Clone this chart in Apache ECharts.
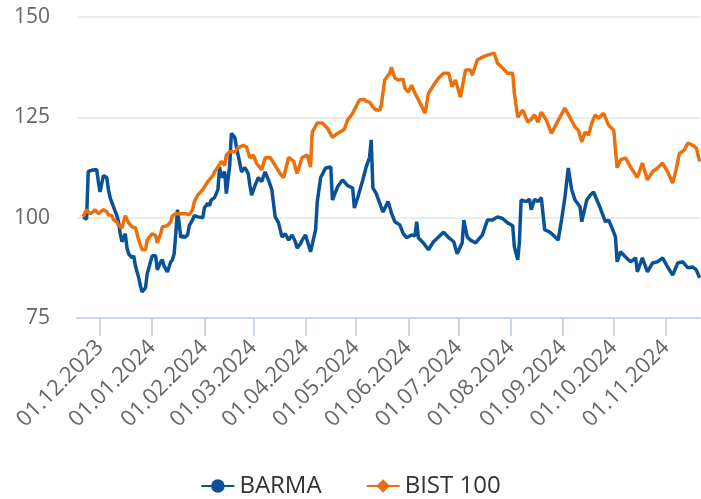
<!DOCTYPE html>
<html>
<head>
<meta charset="utf-8">
<script src="https://cdn.jsdelivr.net/npm/echarts@6/dist/echarts.min.js"></script>
<style>
  html, body { margin: 0; padding: 0; background: #fff; }
  #chart { width: 701px; height: 499px; }
</style>
</head>
<body>
<div id="chart"></div>
<script>
// month ticks on the x axis
const monthTicks = ['2023-12-01', '2024-01-01', '2024-02-01', '2024-03-01', '2024-04-01', '2024-05-01',
  '2024-06-01', '2024-07-01', '2024-08-01', '2024-09-01', '2024-10-01', '2024-11-01']
const yTicks = [75, 100, 125, 150]

// BARMA (rebased to 100)
const barmaDates = [
  '2023-11-21', '2023-11-23', '2023-11-24', '2023-11-26', '2023-11-27', '2023-11-29', '2023-11-30',
  '2023-12-01', '2023-12-03', '2023-12-05', '2023-12-06', '2023-12-07', '2023-12-09', '2023-12-11',
  '2023-12-12', '2023-12-13', '2023-12-14', '2023-12-16', '2023-12-17', '2023-12-18', '2023-12-20',
  '2023-12-21', '2023-12-22', '2023-12-24', '2023-12-25', '2023-12-26', '2023-12-28', '2023-12-29',
  '2023-12-31', '2024-01-01', '2024-01-03', '2024-01-04', '2024-01-06', '2024-01-07', '2024-01-08',
  '2024-01-10', '2024-01-12', '2024-01-13', '2024-01-14', '2024-01-15', '2024-01-16', '2024-01-18',
  '2024-01-19', '2024-01-20', '2024-01-22', '2024-01-23', '2024-01-25', '2024-01-26', '2024-01-28',
  '2024-01-31', '2024-02-01', '2024-02-02', '2024-02-03', '2024-02-04', '2024-02-05', '2024-02-07',
  '2024-02-09', '2024-02-10', '2024-02-11', '2024-02-13', '2024-02-14', '2024-02-16', '2024-02-17',
  '2024-02-19', '2024-02-20', '2024-02-22', '2024-02-23', '2024-02-25', '2024-02-27', '2024-02-28',
  '2024-02-29', '2024-03-02', '2024-03-04', '2024-03-06', '2024-03-08', '2024-03-10', '2024-03-12',
  '2024-03-14', '2024-03-16', '2024-03-18', '2024-03-20', '2024-03-22', '2024-03-24', '2024-03-26',
  '2024-03-27', '2024-03-29', '2024-03-30', '2024-04-01', '2024-04-02', '2024-04-04', '2024-04-07',
  '2024-04-08', '2024-04-10', '2024-04-13', '2024-04-16', '2024-04-17', '2024-04-20', '2024-04-23',
  '2024-04-26', '2024-04-29', '2024-04-30', '2024-05-02', '2024-05-05', '2024-05-07', '2024-05-09',
  '2024-05-10', '2024-05-11', '2024-05-13', '2024-05-15', '2024-05-17', '2024-05-20', '2024-05-22',
  '2024-05-24', '2024-05-27', '2024-05-29', '2024-05-31', '2024-06-03', '2024-06-05', '2024-06-06',
  '2024-06-07', '2024-06-10', '2024-06-13', '2024-06-16', '2024-06-19', '2024-06-22', '2024-06-25',
  '2024-06-28', '2024-06-30', '2024-07-03', '2024-07-04', '2024-07-06', '2024-07-08', '2024-07-11',
  '2024-07-12', '2024-07-15', '2024-07-18', '2024-07-21', '2024-07-24', '2024-07-27', '2024-07-30',
  '2024-08-02', '2024-08-03', '2024-08-05', '2024-08-06', '2024-08-07', '2024-08-10', '2024-08-12',
  '2024-08-13', '2024-08-15', '2024-08-17', '2024-08-19', '2024-08-21', '2024-08-24', '2024-08-26',
  '2024-08-29', '2024-08-31', '2024-09-02', '2024-09-04', '2024-09-06', '2024-09-08', '2024-09-11',
  '2024-09-12', '2024-09-15', '2024-09-17', '2024-09-19', '2024-09-21', '2024-09-23', '2024-09-26',
  '2024-09-28', '2024-09-30', '2024-10-02', '2024-10-03', '2024-10-05', '2024-10-08', '2024-10-11',
  '2024-10-14', '2024-10-15', '2024-10-18', '2024-10-21', '2024-10-24', '2024-10-27', '2024-10-30',
  '2024-11-02', '2024-11-05', '2024-11-08', '2024-11-11', '2024-11-14', '2024-11-17', '2024-11-19',
  '2024-11-21'
]
const barmaValues = [
  100.2, 99.6, 111.5, 111.8, 111.5, 112, 109,
  106.4, 110.5, 110, 107, 105, 102.7, 100.5,
  99, 96, 94, 96, 92.5, 91, 90,
  90.5, 88, 85, 83, 81.5, 82.5, 86,
  89, 90.5, 90.5, 87, 89, 89.5, 88,
  86.5, 89, 89.5, 91, 96, 102, 95,
  95.5, 95, 95.7, 98, 99.5, 100.5, 100.2,
  100, 102.5, 103, 103.6, 103, 104.4, 105,
  107, 112.6, 110, 111.5, 106, 113, 121,
  120, 117.6, 113.6, 111.4, 112.5, 111, 108,
  105.6, 108, 110, 109, 111.4, 109.4, 107,
  100.2, 98.7, 95.2, 96, 94.4, 95.7, 94,
  92.4, 93.5, 94.4, 95.7, 96, 91.5, 97,
  104, 110, 112.4, 112.6, 104.4, 107.7, 109.4,
  108, 107.4, 102.4, 105, 109.4, 112.6, 115,
  119.4, 107.4, 106, 103.7, 101.4, 104, 101.2,
  99, 98.2, 96, 95, 95.7, 95.5, 99,
  95, 93.7, 92, 94, 95.2, 96.4, 95,
  94, 91, 93.7, 99.4, 95.2, 94.4, 93.7,
  94, 95.7, 99.4, 99.4, 100.2, 99.8, 98.7,
  98, 92.7, 89.5, 94, 104.4, 104, 104.6,
  102, 104.6, 104, 105, 97, 96.4, 95.7,
  94.4, 99.4, 105, 112.4, 107, 104.4, 102.7,
  99, 104.4, 105.6, 106.4, 104.4, 102.4, 99,
  99.4, 97.4, 95.2, 89, 91.5, 90.2, 89,
  90, 86.5, 90, 86.5, 88.7, 89, 90,
  87.7, 85.7, 88.7, 89, 87.5, 87.7, 87,
  85
]

// BIST 100 (rebased to 100)
const bistDates = [
  '2023-11-21', '2023-11-22', '2023-11-23', '2023-11-25', '2023-11-27', '2023-11-28', '2023-11-30',
  '2023-12-01', '2023-12-03', '2023-12-05', '2023-12-06', '2023-12-08', '2023-12-09', '2023-12-11',
  '2023-12-12', '2023-12-14', '2023-12-16', '2023-12-18', '2023-12-20', '2023-12-22', '2023-12-24',
  '2023-12-26', '2023-12-28', '2023-12-29', '2023-12-31', '2024-01-01', '2024-01-03', '2024-01-04',
  '2024-01-06', '2024-01-07', '2024-01-10', '2024-01-12', '2024-01-13', '2024-01-15', '2024-01-16',
  '2024-01-19', '2024-01-21', '2024-01-23', '2024-01-25', '2024-01-26', '2024-01-28', '2024-01-31',
  '2024-02-03', '2024-02-04', '2024-02-06', '2024-02-07', '2024-02-09', '2024-02-11', '2024-02-12',
  '2024-02-13', '2024-02-14', '2024-02-16', '2024-02-19', '2024-02-21', '2024-02-24', '2024-02-26',
  '2024-02-28', '2024-03-01', '2024-03-03', '2024-03-06', '2024-03-08', '2024-03-11', '2024-03-14',
  '2024-03-17', '2024-03-19', '2024-03-22', '2024-03-25', '2024-03-27', '2024-03-30', '2024-04-02',
  '2024-04-04', '2024-04-05', '2024-04-08', '2024-04-11', '2024-04-14', '2024-04-17', '2024-04-20',
  '2024-04-21', '2024-04-24', '2024-04-26', '2024-04-29', '2024-04-30', '2024-05-03', '2024-05-06',
  '2024-05-07', '2024-05-09', '2024-05-11', '2024-05-13', '2024-05-15', '2024-05-16', '2024-05-18',
  '2024-05-21', '2024-05-22', '2024-05-24', '2024-05-26', '2024-05-29', '2024-05-30', '2024-06-01',
  '2024-06-03', '2024-06-05', '2024-06-08', '2024-06-11', '2024-06-13', '2024-06-16', '2024-06-19',
  '2024-06-22', '2024-06-25', '2024-06-27', '2024-06-29', '2024-07-02', '2024-07-05', '2024-07-08',
  '2024-07-09', '2024-07-12', '2024-07-15', '2024-07-18', '2024-07-22', '2024-07-24', '2024-07-27',
  '2024-07-30', '2024-08-02', '2024-08-03', '2024-08-05', '2024-08-06', '2024-08-08', '2024-08-11',
  '2024-08-13', '2024-08-15', '2024-08-17', '2024-08-19', '2024-08-22', '2024-08-25', '2024-08-27',
  '2024-08-30', '2024-09-02', '2024-09-05', '2024-09-08', '2024-09-10', '2024-09-12', '2024-09-14',
  '2024-09-16', '2024-09-18', '2024-09-20', '2024-09-22', '2024-09-25', '2024-09-28', '2024-10-01',
  '2024-10-03', '2024-10-05', '2024-10-08', '2024-10-11', '2024-10-15', '2024-10-18', '2024-10-21',
  '2024-10-24', '2024-10-27', '2024-10-30', '2024-11-02', '2024-11-05', '2024-11-07', '2024-11-09',
  '2024-11-12', '2024-11-14', '2024-11-17', '2024-11-19', '2024-11-21'
]
const bistValues = [
  100.2, 100, 102, 101, 101.5, 102, 101,
  101, 102, 101.5, 100.7, 100.5, 99.5, 99,
  98, 97.4, 100.5, 98.7, 97.7, 97.5, 94.4,
  92, 92, 94.4, 95.5, 96, 95.5, 93.7,
  96, 97.7, 98, 99, 100.5, 101, 101,
  101, 101, 100.7, 102, 104, 105.6, 107,
  109, 109.4, 110.5, 111.4, 112.6, 114, 113.6,
  113, 115.6, 116.4, 116.4, 117.4, 118, 117.6,
  114.9, 115.6, 113.5, 111.9, 114.9, 115, 113,
  111, 110, 115, 114, 111, 115, 115.6,
  112.6, 121.3, 123.6, 123.6, 122.3, 120, 121,
  121, 122, 124.3, 126, 126.3, 129.3, 129.5,
  129, 128.8, 127.6, 126.8, 126.8, 128, 134.3,
  136, 137.5, 134.8, 134.3, 134.5, 132.3, 131.3,
  133, 131, 128.6, 126, 131, 133, 134.8,
  136, 136, 132.6, 134.3, 130, 136.8, 136.8,
  135.5, 139.3, 140, 140.5, 141, 138.5, 137.3,
  136, 136, 131, 125, 125, 126.8, 123.8,
  124.5, 125.6, 123.8, 126.3, 124.3, 121, 122.6,
  125, 127.3, 125, 122.6, 121.8, 118.9, 121.3,
  120.6, 123.6, 125.6, 124.8, 126, 123, 121.8,
  112.4, 114.4, 114.9, 112.6, 110, 113.6, 109.4,
  111.4, 112.4, 113.6, 111.4, 108.6, 111.9, 116,
  116.9, 118.6, 118, 117.4, 114
]

const toTime = s => echarts.number.parseDate(s).getTime()
const zip = (dates, values) => dates.map((d, i) => [toTime(d), values[i]])
const pad = n => (n < 10 ? '0' : '') + n
const fmtDate = v => {
  const d = new Date(v)
  return pad(d.getDate()) + '.' + pad(d.getMonth() + 1) + '.' + d.getFullYear()
}

const FONT = '"Open Sans", "Noto Sans", sans-serif'
const tickTimes = monthTicks.map(toTime)

const chart = echarts.init(document.getElementById('chart'))
chart.setOption({
  animation: false,
  grid: { left: 77, right: 1, top: 17, bottom: 181 },
  legend: {
    top: 469,
    left: 'center',
    itemWidth: 33,
    itemHeight: 17,
    itemGap: 44,
    textStyle: { fontSize: 24, color: '#333', fontFamily: FONT },
    data: ['BARMA', 'BIST 100']
  },
  xAxis: {
    // numeric axis holding timestamps, so month ticks can be placed exactly
    type: 'value',
    scale: true,
    min: toTime('2023-11-17') + 8 * 3600e3,
    max: toTime('2024-11-21') + 5 * 3600e3,
    axisLine: { lineStyle: { color: '#ccd6eb', width: 2 } },
    axisTick: { show: true, length: 18, lineStyle: { color: '#ccd6eb', width: 2 }, customValues: tickTimes },
    axisLabel: {
      rotate: 45,
      margin: 26,
      fontSize: 22,
      color: '#666',
      fontFamily: FONT,
      customValues: tickTimes,
      formatter: v => fmtDate(v)
    },
    splitLine: { show: false }
  },
  yAxis: {
    type: 'value',
    min: yTicks[0],
    max: yTicks[yTicks.length - 1],
    interval: 25,
    axisLine: { show: false },
    axisTick: { show: false },
    axisLabel: { margin: 27, fontSize: 21, color: '#666', fontFamily: FONT },
    splitLine: { lineStyle: { color: '#e6e6e6', width: 1.5 } }
  },
  series: [
    {
      name: 'BARMA',
      type: 'line',
      symbol: 'circle',
      symbolSize: 13,
      showSymbol: false,
      color: '#0a5295',
      lineStyle: { width: 3.5, color: '#0a5295' },
      emphasis: { disabled: true },
      z: 2,
      data: zip(barmaDates, barmaValues)
    },
    {
      name: 'BIST 100',
      type: 'line',
      symbol: 'diamond',
      symbolSize: 15,
      showSymbol: false,
      color: '#eb700c',
      lineStyle: { width: 3.5, color: '#eb700c' },
      emphasis: { disabled: true },
      z: 3,
      data: zip(bistDates, bistValues)
    }
  ]
})
</script>
</body>
</html>
